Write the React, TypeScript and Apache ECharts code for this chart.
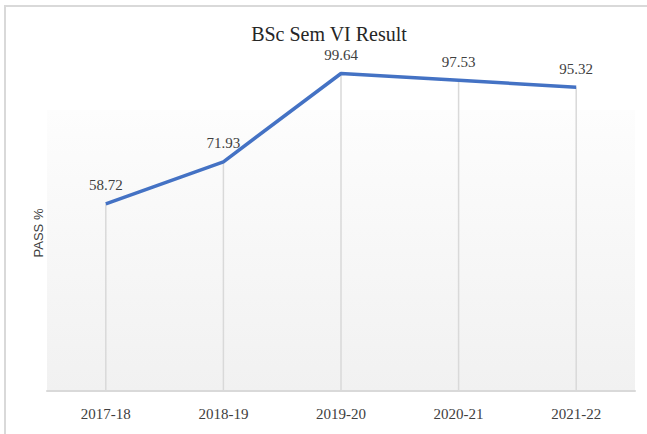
import React, { useEffect, useRef } from "react";
import * as echarts from "echarts";

const categories = ["2017-18", "2018-19", "2019-20", "2020-21", "2021-22"];
const passPercent = [58.72, 71.93, 99.64, 97.53, 95.32];
const titleText = "BSc Sem VI Result";
const yAxisTitle = "PASS %";

export default function App() {
  const ref = useRef<HTMLDivElement>(null);
  useEffect(() => {
    document.body.style.margin = "0";
    const chart = echarts.init(ref.current!, null, { renderer: "svg" });
    chart.setOption({
      animation: false,
      backgroundColor: "#ffffff",
      grid: { left: 47, right: 12, top: 8.6, bottom: 43 },
      graphic: [
        {
          type: "rect",
          z: -10,
          shape: { x: 5, y: 6, width: 700, height: 500 },
          style: { fill: "none", stroke: "#d9d9d9", lineWidth: 2 },
        },
        {
          type: "rect",
          z: -10,
          shape: { x: 47, y: 110, width: 588, height: 281 },
          style: {
            fill: new echarts.graphic.LinearGradient(0, 0, 0, 1, [
              { offset: 0, color: "#fdfdfd" },
              { offset: 1, color: "#f1f1f1" },
            ]),
          },
        },
        {
          type: "text",
          x: 329,
          y: 34,
          style: {
            text: titleText,
            fontFamily: "Liberation Serif",
            fontSize: 20,
            lineHeight: 20,
            fill: "#262626",
            textAlign: "center",
            textVerticalAlign: "middle",
          },
        },
        {
          type: "text",
          x: 38,
          y: 233,
          rotation: Math.PI / 2,
          style: {
            text: yAxisTitle,
            fontFamily: "Liberation Sans",
            fontSize: 13,
            fill: "#404040",
            textAlign: "center",
            textVerticalAlign: "middle",
          },
        },
      ],
      xAxis: {
        type: "category",
        data: categories,
        boundaryGap: true,
        axisLine: { show: true, lineStyle: { color: "#d9d9d9", width: 2 } },
        axisTick: { show: false },
        splitLine: { show: false },
        axisLabel: {
          margin: 15,
          fontFamily: "Liberation Serif",
          fontSize: 15,
          color: "#404040",
        },
      },
      yAxis: {
        type: "value",
        min: 0,
        max: 120,
        axisLine: { show: false },
        axisTick: { show: false },
        axisLabel: { show: false },
        splitLine: { show: false },
      },
      series: [
        {
          type: "bar",
          data: passPercent,
          barWidth: 1.5,
          itemStyle: { color: "#d9d9d9" },
          z: 1,
          silent: true,
          label: {
            show: true,
            position: "top",
            distance: 11,
            lineHeight: 15,
            fontFamily: "Liberation Serif",
            fontSize: 15,
            color: "#404040",
          },
        },
        {
          type: "line",
          data: passPercent,
          symbol: "none",
          lineStyle: { color: "#4472c4", width: 3.5 },
          z: 3,
        },
      ],
    });
    return () => chart.dispose();
  }, []);
  return <div ref={ref} style={{ width: 647, height: 434 }} />;
}
